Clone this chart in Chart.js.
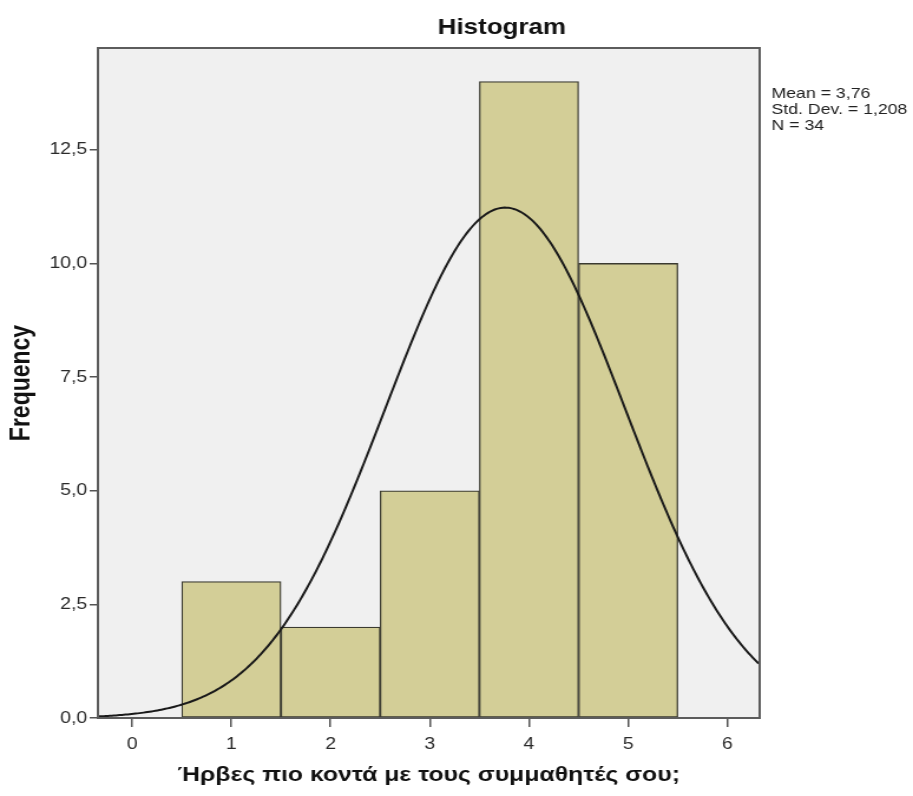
<!DOCTYPE html>
<html>
<head>
<meta charset="utf-8">
<script src="https://cdn.jsdelivr.net/npm/chart.js@4/dist/chart.umd.min.js"></script>
<style>
  html, body { margin: 0; padding: 0; background: #ffffff; overflow: hidden; }
  #wrap { width: 774px; height: 796px; transform: scaleX(1.1796); transform-origin: 0 0; }
</style>
</head>
<body>
<div id="wrap"><canvas id="hist" width="774" height="796"></canvas></div>
<script>
// Response values (bin centres) and how many pupils gave each one
const binCenters = [1, 2, 3, 4, 5];
const frequencies = [3, 2, 5, 14, 10];

// Axis ticks
const xTicks = [0, 1, 2, 3, 4, 5, 6];
const yTicks = [0, 2.5, 5, 7.5, 10, 12.5];
const xRange = [-0.345, 6.325];
const yRange = [0, 14.74];

// Summary statistics printed beside the plot
const statMean = 3.76;
const statSD = 1.208;
const statN = 34;
const statLines = ['Mean = 3,76', 'Std. Dev. = 1,208', 'N = 34'];

const chartTitle = 'Histogram';
const xTitle = 'Ήρβες πιο κοντά με τους συμμαθητές σου;';
const yTitle = 'Frequency';

// Normal curve scaled to the counts (bin width 1) from the stated mean / sd / N
const binWidth = 1;
const curvePoints = [];
for (let x = xRange[0]; x <= xRange[1] + 1e-9; x += 0.02) {
  const z = (x - statMean) / statSD;
  const y = statN * binWidth * Math.exp(-0.5 * z * z) / (statSD * Math.sqrt(2 * Math.PI));
  curvePoints.push({ x: x, y: y });
}

const FONT = '"Liberation Sans", Arial, sans-serif';
const comma = v => String(v).replace('.', ',');

const plotFrame = {
  id: 'plotFrame',
  beforeDraw(chart) {
    const { ctx, chartArea: a } = chart;
    ctx.save();
    ctx.fillStyle = '#f0f0f0';
    ctx.fillRect(a.left, a.top, a.right - a.left, a.bottom - a.top);
    ctx.restore();
  },
  afterDatasetsDraw(chart) {
    const { ctx, chartArea: a } = chart;
    ctx.save();
    ctx.strokeStyle = '#5c5c5c';
    ctx.lineWidth = 2;
    ctx.strokeRect(a.left, a.top, a.right - a.left, a.bottom - a.top);
    ctx.restore();
  },
  afterDraw(chart) {
    const { ctx, chartArea: a } = chart;
    ctx.save();
    ctx.fillStyle = '#111111';
    ctx.font = 'bold 22px ' + FONT;
    ctx.textAlign = 'center';
    ctx.textBaseline = 'middle';
    ctx.fillText(chartTitle, 425.5, 28);

    ctx.font = '15px ' + FONT;
    ctx.textAlign = 'left';
    ctx.fillStyle = '#222222';
    statLines.forEach((t, i) => ctx.fillText(t, a.right + 10, 94 + i * 16));
    ctx.restore();
  }
};

new Chart(document.getElementById('hist'), {
  type: 'bar',
  data: {
    datasets: [
      {
        type: 'line',
        data: curvePoints,
        borderColor: '#1a1a1a',
        borderWidth: 2,
        pointRadius: 0,
        tension: 0,
        fill: false,
        order: 0
      },
      {
        type: 'bar',
        data: binCenters.map((x, i) => ({ x: x, y: frequencies[i] })),
        backgroundColor: '#d3ce97',
        borderColor: '#3a3a30',
        borderWidth: 1.3,
        borderSkipped: false,
        barPercentage: 1,
        categoryPercentage: 1,
        order: 1
      }
    ]
  },
  options: {
    responsive: false,
    animation: false,
    devicePixelRatio: 1,
    layout: { padding: { left: 0, right: 130, top: 48, bottom: 0 } },
    plugins: { legend: { display: false }, tooltip: { enabled: false }, title: { display: false } },
    scales: {
      x: {
        type: 'linear',
        min: xRange[0],
        max: xRange[1],
        offset: false,
        afterBuildTicks: s => { s.ticks = xTicks.map(v => ({ value: v })); },
        afterFit: s => { s.height = 78; },
        border: { display: false },
        grid: { display: true, offset: false, drawOnChartArea: false, drawTicks: true, tickLength: 9, color: '#555555', lineWidth: 1.5 },
        ticks: {
          color: '#2a2a2a',
          font: { family: FONT, size: 16.5 },
          padding: 8,
          maxRotation: 0,
          autoSkip: false,
          callback: v => String(v)
        },
        title: {
          display: true,
          text: xTitle,
          color: '#111111',
          font: { family: FONT, size: 21, weight: 'bold' },
          padding: { top: 0, bottom: 8 }
        }
      },
      y: {
        type: 'linear',
        min: yRange[0],
        max: yRange[1],
        afterBuildTicks: s => { s.ticks = yTicks.map(v => ({ value: v })); },
        afterFit: s => { s.width = 83; },
        border: { display: false },
        grid: { display: true, drawOnChartArea: false, drawTicks: true, tickLength: 7, color: '#555555', lineWidth: 1.5 },
        ticks: {
          color: '#2a2a2a',
          font: { family: FONT, size: 16.5 },
          padding: 2,
          autoSkip: false,
          callback: v => comma(v.toFixed(1))
        },
        title: {
          display: true,
          text: yTitle,
          color: '#111111',
          font: { family: FONT, size: 23, weight: 'bold' },
          padding: { top: 5, bottom: 0 }
        }
      }
    }
  },
  plugins: [plotFrame]
});
</script>
</body>
</html>
